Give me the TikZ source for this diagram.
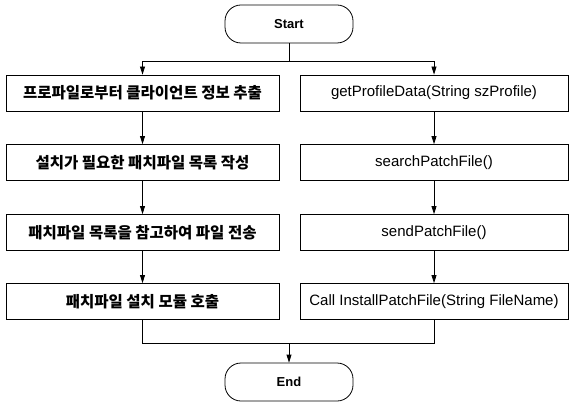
\documentclass[tikz,border=0pt]{standalone}
\usepackage{fontspec}
\setmainfont{Liberation Sans}
\newfontfamily\kr{Noto Sans CJK KR}
\usetikzlibrary{arrows.meta}
\begin{document}
\begin{tikzpicture}[x=1pt,y=-1pt,
  box/.style={draw,line width=0.8pt,minimum height=36pt,inner sep=0pt,font=\fontsize{15}{17}\selectfont},
  lbox/.style={box,minimum width=273pt,font=\fontsize{15.5}{17}\kr\bfseries},
  rbox/.style={box,minimum width=268pt},
  term/.style={draw,line width=0.8pt,rounded corners=16pt,minimum width=128pt,minimum height=38pt,font=\fontsize{13}{15}\selectfont\bfseries},
  line/.style={line width=0.8pt},
  arr/.style={line,-{Triangle[length=8pt,width=5pt]}}]
\useasboundingbox (0,0) rectangle (569,403);
\node[term] (start) at (289,24) {Start};
\node[lbox] (L1) at (142.5,93) {프로파일로부터 클라이언트 정보 추출};
\node[lbox] (L2) at (142.5,162.5) {설치가 필요한 패치파일 목록 작성};
\node[lbox] (L3) at (142.5,232.5) {패치파일 목록을 참고하여 파일 전송};
\node[lbox] (L4) at (142.5,301.5) {패치파일 설치 모듈 호출};
\node[rbox] (R1) at (434,93) {getProfileData(String szProfile)};
\node[rbox] (R2) at (434,162.5) {searchPatchFile()};
\node[rbox] (R3) at (434,232.5) {sendPatchFile()};
\node[rbox] (R4) at (434,301.5) {Call InstallPatchFile(String FileName)};
\node[term] (end) at (289,382) {End};
\coordinate (split) at (289,61);
\coordinate (merge) at (289,343);
\draw[line] (start.south) -- (split);
\draw[arr] (split) -| (L1.north);
\draw[arr] (split) -| (R1.north);
\draw[arr] (L1) -- (L2);
\draw[arr] (L2) -- (L3);
\draw[arr] (L3) -- (L4);
\draw[arr] (R1) -- (R2);
\draw[arr] (R2) -- (R3);
\draw[arr] (R3) -- (R4);
\draw[line] (L4.south) |- (merge);
\draw[line] (R4.south) |- (merge);
\draw[arr] (merge) -- (end);
\end{tikzpicture}
\end{document}
